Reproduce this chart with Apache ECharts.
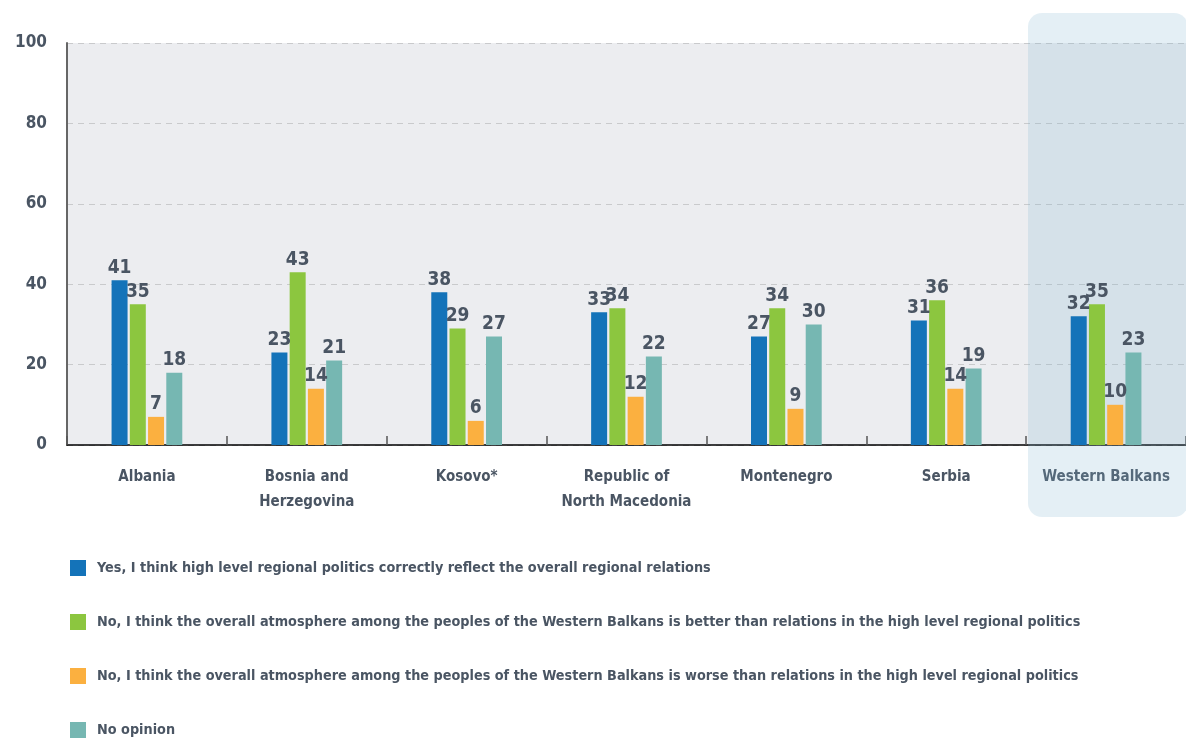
<!DOCTYPE html>
<html><head><meta charset="utf-8">
<script src="https://cdn.jsdelivr.net/npm/echarts@6/dist/echarts.min.js"></script>
<style>html,body{margin:0;padding:0;background:#fff}#c{width:1186px;height:740px}</style>
</head><body><div id="c"></div>
<script>
const categories = ['Albania','Bosnia and\nHerzegovina','Kosovo*','Republic of\nNorth Macedonia','Montenegro','Serbia','Western Balkans'];
const seriesNames = [
  'Yes, I think high level regional politics correctly reflect the overall regional relations',
  'No, I think the overall atmosphere among the peoples of the Western Balkans is better than relations in the high level regional politics',
  'No, I think the overall atmosphere among the peoples of the Western Balkans is worse than relations in the high level regional politics',
  'No opinion'
];
const yesValues = [41,23,38,33,27,31,32];
const betterValues = [35,43,29,34,34,36,35];
const worseValues = [7,14,6,12,9,14,10];
const noOpinionValues = [18,21,27,22,30,19,23];
const yTicks = [0,20,40,60,80,100];

const colors = ['#1473b9','#8cc63f','#fbb040','#76b7b2'];
const FONT = "'Liberation Sans Narrow','DejaVu Sans Condensed','Liberation Sans',sans-serif";
const TXT = '#4a5563';

const chart = echarts.init(document.getElementById('c'));
const mk = (name, data, i) => ({
  name, type: 'bar', data, barWidth: 16, barGap: '14%',
  itemStyle: { color: colors[i] },
  label: { show: true, position: 'top', distance: 3, color: TXT, fontFamily: FONT, fontWeight: 'bold', fontSize: 19 },
  z: 3
});
chart.setOption({
  animation: false,
  color: colors,
  graphic: [{
    type: 'rect', z: 1, silent: true,
    shape: { x: 1028, y: 13, width: 160, height: 504, r: 14 },
    style: { fill: 'rgba(127,178,210,0.21)' }
  }],
  grid: { left: 67, right: 0, top: 43, bottom: 295, show: true, backgroundColor: '#ecedf0', borderWidth: 0 },
  legend: {
    orient: 'vertical', left: 70, top: 560, height: 200, padding: 0, itemGap: 38, itemWidth: 16, itemHeight: 16, icon: 'rect',
    textStyle: { color: TXT, fontFamily: FONT, fontWeight: 'bold', fontSize: 14.3, padding: [0,0,0,6] },
    data: seriesNames
  },
  xAxis: {
    type: 'category', data: categories,
    axisLine: { show: true, lineStyle: { color: '#000', width: 1.5 } },
    axisTick: { show: true, inside: true, interval: 0, length: 9, lineStyle: { color: '#555', width: 1.5 } },
    axisLabel: { interval: 0, color: TXT, fontFamily: FONT, fontWeight: 'bold', fontSize: 15, margin: 20, lineHeight: 25 }
  },
  yAxis: {
    type: 'value', min: 0, max: 100, interval: 20,
    axisLine: { show: true, lineStyle: { color: '#666', width: 2 } },
    axisTick: { show: false },
    axisLabel: { color: TXT, fontFamily: FONT, fontWeight: 'bold', fontSize: 17, margin: 20,
      formatter: v => yTicks.includes(v) ? String(v) : '' },
    splitLine: { show: true, lineStyle: { color: '#c9cacc', type: [6,5], width: 1 } }
  },
  series: [
    mk(seriesNames[0], yesValues, 0),
    mk(seriesNames[1], betterValues, 1),
    mk(seriesNames[2], worseValues, 2),
    mk(seriesNames[3], noOpinionValues, 3)
  ]
});
</script></body></html>
